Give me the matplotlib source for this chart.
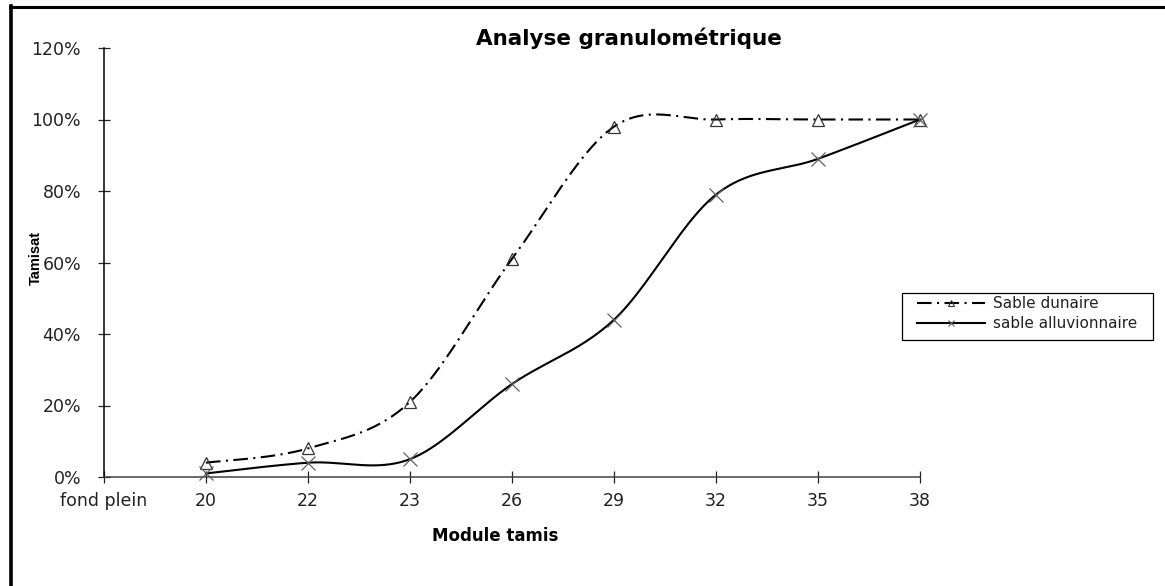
import numpy as np
import matplotlib
matplotlib.use("Agg")
import matplotlib.pyplot as plt
from matplotlib.ticker import PercentFormatter, FixedLocator
from matplotlib.lines import Line2D
from matplotlib.patches import Rectangle

# Sieve analysis data (cumulative passing fraction)
categories = ['fond plein', '20', '22', '23', '26', '29', '32', '35', '38']
sable_dunaire = [0.04, 0.08, 0.21, 0.61, 0.98, 1.00, 1.00, 1.00]
sable_alluvionnaire = [0.01, 0.04, 0.05, 0.26, 0.44, 0.79, 0.89, 1.00]
y_ticks = [0.0, 0.2, 0.4, 0.6, 0.8, 1.0, 1.2]

W, H = 1165, 586


def smooth_curve(xs, ys, n=40):
    """Cubic Bezier smoothing through every point (spreadsheet-style)."""
    pts = np.column_stack([xs, ys]).astype(float)
    P = np.vstack([pts[0], pts, pts[-1]])
    out = []
    t = np.linspace(0, 1, n, endpoint=False)[:, None]
    for i in range(len(pts) - 1):
        p0, p1, p2, p3 = P[i], P[i + 1], P[i + 2], P[i + 3]
        c1 = p1 + (p2 - p0) / 6.0
        c2 = p2 - (p3 - p1) / 6.0
        seg = ((1 - t) ** 3) * p1 + 3 * ((1 - t) ** 2) * t * c1 \
            + 3 * (1 - t) * (t ** 2) * c2 + (t ** 3) * p2
        out.append(seg)
    out.append(pts[-1:])
    curve = np.vstack(out)
    return curve[:, 0], curve[:, 1], list(range(0, len(curve), n))


fig = plt.figure(figsize=(W / 100, H / 100), dpi=100)
fig.patch.set_facecolor('white')

ax = fig.add_axes([104 / W, 109 / H, 816 / W, 429 / H])
ax.set_facecolor('white')

x_pos = np.arange(1, len(categories))
N = 40

cx, cy, mk = smooth_curve(x_pos, sable_dunaire, N)
l1, = ax.plot(cx, cy, color='black', lw=1.5, linestyle=(0, (7, 2.6, 1, 2.6)),
              marker='^', markevery=mk, markersize=9, markerfacecolor='none',
              markeredgecolor='#333333', markeredgewidth=0.9,
              label='Sable dunaire', clip_on=False, zorder=3)

cx, cy, mk = smooth_curve(x_pos, sable_alluvionnaire, N)
l2, = ax.plot(cx, cy, color='black', lw=1.5, linestyle='-',
              marker='x', markevery=mk, markersize=10,
              markeredgecolor='#606060', markeredgewidth=0.9,
              label='sable alluvionnaire', clip_on=False, zorder=3)

ax.set_xlim(0, len(categories) - 1)
ax.set_ylim(0, 1.2)
ax.xaxis.set_major_locator(FixedLocator(np.arange(len(categories))))
ax.set_xticklabels(categories)
ax.yaxis.set_major_locator(FixedLocator(y_ticks))
ax.yaxis.set_major_formatter(PercentFormatter(1.0, decimals=0))

for s in ['top', 'right']:
    ax.spines[s].set_visible(False)
ax.spines['left'].set_color('black')
ax.spines['left'].set_linewidth(1.1)
ax.spines['bottom'].set_color('#404040')
ax.spines['bottom'].set_linewidth(1.1)

ax.tick_params(axis='both', direction='inout', length=9, width=0.9,
               colors='#222222', labelcolor='#222222')
ax.tick_params(axis='y', pad=12, labelsize=12.5)
ax.tick_params(axis='x', pad=6, labelsize=12.5)
for lab in ax.get_xticklabels() + ax.get_yticklabels():
    lab.set_family('DejaVu Sans')

# Titles and axis names
fig.text(629 / W, 1 - 45 / H, 'Analyse granulométrique', ha='center',
         va='baseline', fontsize=15.5, fontweight='bold', family='DejaVu Sans')
fig.text(36 / W, 1 - 258 / H, 'Tamisat', rotation=90, ha='center',
         va='center', fontsize=10.5, fontweight='bold',
         family='Liberation Sans', zorder=6)
fig.text(495 / W, 1 - 536 / H, 'Module tamis', ha='center', va='center',
         fontsize=12, fontweight='bold', family='DejaVu Sans')

# Legend with a separately drawn frame
fig.add_artist(Rectangle((902 / W, 1 - 340 / H), 251 / W, 47 / H,
                         transform=fig.transFigure, facecolor='white',
                         edgecolor='black', lw=0.9, zorder=4))
leg = fig.legend(handles=[l1, l2], loc='upper left',
                 bbox_to_anchor=(917 / W, 1 - 296 / H),
                 bbox_transform=fig.transFigure, frameon=False,
                 borderpad=0, borderaxespad=0, handlelength=4.45,
                 handletextpad=0.5, labelspacing=0.33,
                 prop={'family': 'DejaVu Sans', 'size': 11})
leg.set_zorder(5)
for h in leg.legend_handles:
    h.set_markersize(5)
    h.set_markeredgewidth(0.8)
for t in leg.get_texts():
    t.set_color('#222222')

# Outer frame lines (top and left)
fig.add_artist(Line2D([10 / W, 1.0], [1 - 7 / H, 1 - 7 / H],
                      transform=fig.transFigure, color='black', lw=2.2))
fig.add_artist(Line2D([11 / W, 11 / W], [0.0, 1 - 6 / H],
                      transform=fig.transFigure, color='black', lw=2.6))

fig.savefig('out.png', dpi=100, facecolor='white')
